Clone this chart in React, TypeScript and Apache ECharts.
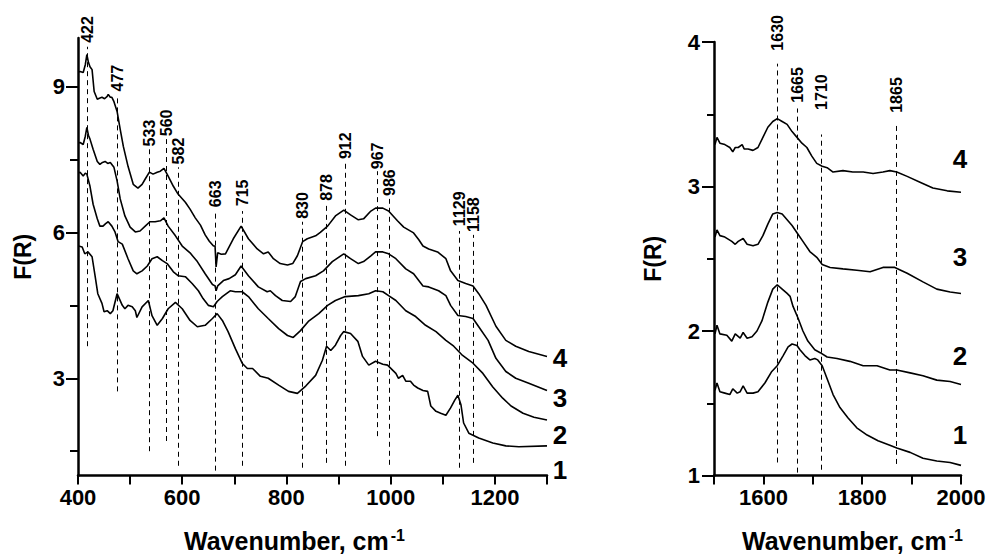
import React, { useEffect, useRef } from "react";
import * as echarts from "echarts";

const FONT = "'Liberation Sans', Arial, Helvetica, sans-serif";

// ---------- Left panel (400-1300 cm-1) ----------
const leftCurve1: number[][] = [
  [401, 5.72], [408, 5.7], [413, 5.56], [419, 5.6], [427, 5.5], [433, 5.09], [438, 4.74], [446, 4.54], [450, 4.37],
  [456, 4.39], [462, 4.33], [467, 4.39], [475, 4.74], [485, 4.5], [490, 4.43], [496, 4.5], [504, 4.47], [510, 4.39],
  [513, 4.25], [523, 4.47], [535, 4.6], [542, 4.29], [552, 4.09], [562, 4.23], [573, 4.43], [587, 4.56], [600, 4.43],
  [615, 4.19], [629, 4.06], [644, 4.09], [658, 4.23], [667, 4.33], [677, 4.19], [688, 3.96], [702, 3.61], [715, 3.31],
  [725, 3.2], [735, 3.2], [750, 3.04], [765, 3.0], [785, 2.86], [804, 2.73], [821, 2.69], [837, 2.84], [856, 3.06],
  [869, 3.37], [877, 3.66], [885, 3.57], [894, 3.68], [904, 3.88], [910, 3.96], [923, 3.92], [937, 3.76], [946, 3.45],
  [958, 3.27], [971, 3.35], [985, 3.29], [994, 3.27], [1010, 3.1], [1015, 3.0], [1023, 3.06], [1029, 2.94], [1038, 2.94],
  [1044, 2.86], [1052, 2.8], [1062, 2.75], [1071, 2.73], [1077, 2.43], [1087, 2.32], [1096, 2.28], [1106, 2.24],
  [1115, 2.39], [1123, 2.55], [1129, 2.65], [1135, 2.45], [1140, 2.08], [1150, 1.87], [1169, 1.77], [1196, 1.67],
  [1221, 1.61], [1246, 1.59], [1300, 1.61],
];
const leftCurve2: number[][] = [
  [401, 7.22], [404, 7.24], [410, 7.16], [414, 7.22], [417, 7.2], [423, 6.95], [429, 6.58], [437, 6.28], [442, 6.13],
  [448, 6.13], [453, 6.18], [458, 6.22], [465, 6.13], [471, 6.01], [477, 5.81], [485, 5.76], [496, 5.46], [506, 5.21],
  [513, 5.15], [523, 5.21], [533, 5.31], [542, 5.46], [552, 5.5], [562, 5.42], [571, 5.36], [583, 5.19], [592, 5.11],
  [606, 5.09], [619, 4.95], [631, 4.8], [640, 4.64], [650, 4.5], [660, 4.47], [667, 4.58], [677, 4.68], [692, 4.8],
  [702, 4.78], [715, 4.78], [727, 4.68], [746, 4.43], [765, 4.23], [785, 4.02], [802, 3.88], [813, 3.84], [827, 3.98],
  [842, 4.17], [862, 4.33], [879, 4.5], [894, 4.6], [913, 4.68], [938, 4.7], [958, 4.74], [971, 4.8], [985, 4.78],
  [996, 4.7], [1010, 4.6], [1029, 4.39], [1048, 4.27], [1067, 4.09], [1087, 3.96], [1106, 3.78], [1121, 3.66],
  [1138, 3.47], [1158, 3.31], [1177, 3.1], [1196, 2.82], [1215, 2.59], [1231, 2.43], [1254, 2.28], [1275, 2.2],
  [1300, 2.14],
];
const leftCurve3: number[][] = [
  [401, 7.84], [404, 7.85], [410, 7.81], [414, 7.98], [417, 8.16], [420, 8.0], [423, 7.92], [429, 7.71], [437, 7.46],
  [442, 7.4], [447, 7.44], [452, 7.46], [457, 7.42], [462, 7.44], [469, 7.34], [475, 7.06], [481, 6.69], [490, 6.34],
  [500, 6.11], [510, 6.01], [519, 6.03], [529, 6.13], [538, 6.22], [548, 6.22], [558, 6.24], [565, 6.3], [573, 6.13],
  [587, 5.93], [600, 5.72], [615, 5.58], [629, 5.4], [644, 5.15], [658, 4.93], [663, 4.9], [665, 4.8], [668, 4.9],
  [679, 5.01], [690, 5.05], [702, 5.13], [713, 5.31], [727, 5.11], [746, 4.88], [763, 4.78], [769, 4.8], [779, 4.7],
  [792, 4.6], [808, 4.58], [817, 4.68], [827, 4.99], [837, 5.05], [856, 5.11], [871, 5.21], [888, 5.4], [910, 5.56],
  [923, 5.46], [938, 5.36], [948, 5.4], [962, 5.52], [971, 5.6], [985, 5.6], [996, 5.56], [1010, 5.46], [1029, 5.25],
  [1044, 5.15], [1062, 4.9], [1073, 4.88], [1092, 4.8], [1106, 4.7], [1115, 4.5], [1129, 4.29], [1144, 4.27],
  [1158, 4.23], [1169, 4.06], [1187, 3.78], [1202, 3.41], [1221, 3.14], [1240, 3.0], [1265, 2.9], [1300, 2.75],
];
const leftCurve4: number[][] = [
  [401, 9.3], [404, 9.31], [410, 9.29], [414, 9.45], [417, 9.66], [420, 9.5], [423, 9.41], [427, 9.35], [431, 8.9],
  [437, 8.74], [441, 8.76], [446, 8.78], [451, 8.75], [456, 8.8], [458, 8.84], [462, 8.78], [465, 8.78], [469, 8.69],
  [475, 8.49], [481, 8.12], [487, 7.77], [496, 7.36], [506, 6.99], [515, 6.91], [523, 6.99], [529, 7.1], [537, 7.24],
  [544, 7.2], [552, 7.24], [558, 7.26], [565, 7.32], [573, 7.16], [583, 6.95], [592, 6.79], [606, 6.62], [615, 6.48],
  [625, 6.3], [635, 6.15], [644, 5.95], [652, 5.82], [660, 5.72], [663, 5.72], [665, 5.29], [668, 5.58], [675, 5.55],
  [683, 5.56], [698, 5.87], [713, 6.13], [727, 5.87], [744, 5.66], [756, 5.56], [765, 5.6], [775, 5.46], [788, 5.36],
  [802, 5.33], [812, 5.36], [821, 5.52], [831, 5.81], [840, 5.87], [856, 5.93], [865, 6.0], [879, 6.13], [894, 6.34],
  [910, 6.46], [923, 6.36], [938, 6.26], [948, 6.28], [962, 6.44], [971, 6.5], [985, 6.5], [996, 6.44], [1013, 6.24],
  [1025, 6.11], [1044, 5.99], [1054, 5.85], [1062, 5.72], [1073, 5.66], [1090, 5.6], [1106, 5.46], [1115, 5.21],
  [1129, 5.01], [1144, 4.95], [1158, 4.9], [1169, 4.74], [1183, 4.5], [1202, 4.07], [1221, 3.78], [1240, 3.66],
  [1265, 3.55], [1300, 3.45],
];

const leftMarkerLabels = ["422", "477", "533", "560", "582", "663", "715", "830", "878", "912", "967", "986", "1129", "1158"];
const leftMarkerX = [417, 475, 536, 569, 591, 663, 714, 830, 875, 913, 973, 996, 1131, 1158];
const leftMarkerBottom = [3.66, 2.73, 1.5, 1.71, 1.2, 1.1, 1.2, 1.16, 1.26, 1.2, 1.81, 1.22, 1.16, 1.26];
const leftMarkerTop = [9.82, 8.84, 7.71, 7.92, 7.34, 6.44, 6.44, 6.22, 6.58, 7.44, 7.26, 6.69, 6.03, 5.95];
const leftMarkerLabelY = [9.9, 8.9, 7.77, 7.98, 7.4, 6.52, 6.54, 6.28, 6.65, 7.51, 7.3, 6.75, 6.13, 6.01];

const leftCurveNames = ["1", "2", "3", "4"];
const leftCurveNameX = [1325, 1325, 1325, 1325];
const leftCurveNameY = [1.12, 1.83, 2.6, 3.41];

const leftXLabels = [400, 600, 800, 1000, 1200];
const leftYLabels = [3, 6, 9];
const leftYMinorTicks = [1.5, 4.5, 7.5];

// ---------- Right panel (1500-2000 cm-1) ----------
const rightCurve1: number[][] = [
  [1502, 1.59], [1506, 1.64], [1512, 1.58], [1522, 1.57], [1532, 1.56], [1538, 1.6], [1547, 1.57], [1553, 1.58],
  [1559, 1.62], [1567, 1.57], [1579, 1.57], [1589, 1.58], [1603, 1.64], [1617, 1.72], [1628, 1.76], [1640, 1.83],
  [1650, 1.89], [1658, 1.91], [1668, 1.9], [1674, 1.87], [1684, 1.83], [1694, 1.8], [1704, 1.81], [1710, 1.8],
  [1719, 1.76], [1729, 1.67], [1741, 1.56], [1755, 1.47], [1771, 1.4], [1789, 1.33], [1810, 1.28], [1832, 1.24],
  [1856, 1.21], [1870, 1.19], [1897, 1.16], [1923, 1.12], [1951, 1.1], [1978, 1.09], [2000, 1.07],
];
const rightCurve2: number[][] = [
  [1502, 1.98], [1506, 2.04], [1512, 1.98], [1526, 1.97], [1536, 1.93], [1543, 1.98], [1553, 1.95], [1559, 1.99],
  [1567, 1.95], [1577, 1.96], [1587, 2.0], [1597, 2.07], [1609, 2.2], [1619, 2.29], [1628, 2.32], [1638, 2.29],
  [1648, 2.26], [1654, 2.24], [1660, 2.17], [1670, 2.09], [1680, 2.0], [1690, 1.93], [1704, 1.87], [1715, 1.85],
  [1729, 1.82], [1749, 1.81], [1775, 1.79], [1802, 1.76], [1830, 1.76], [1856, 1.73], [1870, 1.73], [1897, 1.71],
  [1923, 1.69], [1951, 1.66], [1978, 1.65], [2000, 1.63],
];
const rightCurve3: number[][] = [
  [1502, 2.65], [1506, 2.7], [1512, 2.66], [1522, 2.65], [1536, 2.62], [1543, 2.6], [1549, 2.62], [1559, 2.64],
  [1567, 2.6], [1579, 2.59], [1589, 2.6], [1599, 2.66], [1609, 2.74], [1619, 2.81], [1628, 2.82], [1638, 2.81],
  [1648, 2.77], [1658, 2.73], [1668, 2.68], [1680, 2.62], [1694, 2.55], [1708, 2.51], [1719, 2.46], [1735, 2.44],
  [1761, 2.43], [1789, 2.42], [1816, 2.41], [1842, 2.44], [1866, 2.44], [1891, 2.4], [1923, 2.34], [1951, 2.29],
  [1978, 2.27], [2000, 2.26],
];
const rightCurve4: number[][] = [
  [1502, 3.29], [1506, 3.34], [1512, 3.3], [1522, 3.29], [1532, 3.27], [1538, 3.24], [1543, 3.27], [1549, 3.27],
  [1557, 3.29], [1561, 3.26], [1569, 3.26], [1579, 3.25], [1589, 3.27], [1599, 3.34], [1609, 3.41], [1619, 3.45],
  [1628, 3.47], [1638, 3.45], [1648, 3.43], [1658, 3.38], [1668, 3.34], [1678, 3.3], [1688, 3.27], [1698, 3.21],
  [1708, 3.16], [1719, 3.14], [1729, 3.13], [1741, 3.1], [1761, 3.11], [1781, 3.1], [1802, 3.1], [1822, 3.09],
  [1842, 3.1], [1856, 3.11], [1870, 3.1], [1891, 3.07], [1917, 3.03], [1943, 2.99], [1972, 2.97], [2000, 2.96],
];

const rightMarkerLabels = ["1630", "1665", "1710", "1865"];
const rightMarkerX = [1627, 1668, 1717, 1868];
const rightMarkerBottom = [1.09, 1.02, 1.04, 1.08];
const rightMarkerTop = [3.85, 3.54, 3.36, 3.43];
const rightMarkerLabelY = [3.94, 3.58, 3.53, 3.51];

const rightCurveNames = ["1", "2", "3", "4"];
const rightCurveNameX = [1998, 1998, 1998, 1998];
const rightCurveNameY = [1.28, 1.83, 2.51, 3.19];

const rightXLabels = [1600, 1800, 2000];

// ---------- helpers ----------
const axisLineStyle = { color: "#000", width: 2.5 };
const tickLineStyle = { color: "#000", width: 2 };
const labelStyle = { color: "#000", fontFamily: FONT, fontWeight: "bold" as const, fontSize: 22 };
const xName = "{a|Wavenumber, cm}{b|-1}";
const xNameRich = {
  a: { fontSize: 25, fontWeight: "bold", fontFamily: FONT, color: "#000" },
  b: { fontSize: 16, fontWeight: "bold", fontFamily: FONT, color: "#000", verticalAlign: "top", padding: [0, 0, 10, 2] },
};
const yNameStyle = { fontSize: 23, fontWeight: "bold", fontFamily: FONT, color: "#000" };

const pick = (list: number[]) => (v: number) => (list.indexOf(Math.round(v)) >= 0 ? String(Math.round(v)) : "");

function curveSeries(data: number[][], xi: number, yi: number) {
  return {
    type: "line",
    xAxisIndex: xi,
    yAxisIndex: yi,
    data,
    showSymbol: false,
    symbol: "none",
    smooth: false,
    silent: true,
    lineStyle: { color: "#000", width: 1.6 },
    z: 3,
  };
}

function markerSeries(xi: number, yi: number, labels: string[], xs: number[], yb: number[], yt: number[], yl: number[]) {
  return {
    type: "custom",
    xAxisIndex: xi,
    yAxisIndex: yi,
    coordinateSystem: "cartesian2d",
    clip: false,
    silent: true,
    z: 2,
    data: xs.map((x, i) => [x, yb[i], yt[i], yl[i]]),
    encode: { x: 0, y: [1, 2, 3] },
    renderItem: (params: any, api: any) => {
      const x = api.value(0);
      const p1 = api.coord([x, api.value(1)]);
      const p2 = api.coord([x, api.value(2)]);
      const p3 = api.coord([x, api.value(3)]);
      const px = Math.round(p1[0]) + 0.5;
      return {
        type: "group",
        children: [
          {
            type: "line",
            shape: { x1: px, y1: p1[1], x2: px, y2: p2[1] },
            style: { stroke: "#000", lineWidth: 1, lineDash: [5, 4] },
          },
          {
            type: "text",
            x: px,
            y: p3[1],
            rotation: Math.PI / 2,
            style: {
              text: labels[params.dataIndex],
              fill: "#000",
              font: `bold 16px ${FONT}`,
              textAlign: "left",
              textVerticalAlign: "middle",
              align: "left",
              verticalAlign: "middle",
            },
          },
        ],
      };
    },
  };
}

function nameSeries(xi: number, yi: number, names: string[], xs: number[], ys: number[]) {
  return {
    type: "custom",
    xAxisIndex: xi,
    yAxisIndex: yi,
    coordinateSystem: "cartesian2d",
    clip: false,
    silent: true,
    z: 4,
    data: xs.map((x, i) => [x, ys[i]]),
    encode: { x: 0, y: 1 },
    renderItem: (params: any, api: any) => {
      const p = api.coord([api.value(0), api.value(1)]);
      return {
        type: "text",
        x: p[0],
        y: p[1],
        style: {
          text: names[params.dataIndex],
          fill: "#000",
          font: `bold 26px ${FONT}`,
          textAlign: "center",
          textVerticalAlign: "middle",
          align: "center",
          verticalAlign: "middle",
        },
      };
    },
  };
}

export default function App() {
  const ref = useRef<HTMLDivElement>(null);

  useEffect(() => {
    if (!ref.current) return;
    const chart = echarts.init(ref.current, undefined, { renderer: "svg" });
    chart.setOption({
      animation: false,
      backgroundColor: "#fff",
      grid: [
        { left: 78, top: 38, width: 469, height: 439 },
        { left: 714, top: 42, width: 247, height: 436 },
      ],
      xAxis: [
        {
          type: "value",
          gridIndex: 0,
          min: 400,
          max: 1300,
          interval: 100,
          axisLine: { show: true, onZero: false, lineStyle: axisLineStyle },
          axisTick: { show: true, length: 9, lineStyle: tickLineStyle },
          axisLabel: { ...labelStyle, margin: 11, formatter: pick(leftXLabels) },
          splitLine: { show: false },
          name: xName,
          nameLocation: "middle",
          nameGap: 52,
          nameTextStyle: { rich: xNameRich, padding: [0, 36, 0, 0] },
        },
        {
          type: "value",
          gridIndex: 1,
          min: 1500,
          max: 2000,
          interval: 100,
          axisLine: { show: true, onZero: false, lineStyle: axisLineStyle },
          axisTick: { show: true, length: 9, lineStyle: tickLineStyle },
          axisLabel: { ...labelStyle, margin: 11, formatter: pick(rightXLabels) },
          splitLine: { show: false },
          name: xName,
          nameLocation: "middle",
          nameGap: 52,
          nameTextStyle: { rich: xNameRich, padding: [0, 0, 0, 30] },
        },
      ],
      yAxis: [
        {
          type: "value",
          gridIndex: 0,
          min: 1,
          max: 10,
          axisLine: { show: true, onZero: false, lineStyle: axisLineStyle },
          axisTick: { show: true, length: 12, lineStyle: tickLineStyle, customValues: leftYLabels },
          axisLabel: { ...labelStyle, margin: 13, customValues: leftYLabels },
          splitLine: { show: false },
          name: "F(R)",
          nameLocation: "middle",
          nameGap: 44,
          nameTextStyle: yNameStyle,
        },
        {
          type: "value",
          gridIndex: 0,
          position: "left",
          min: 1,
          max: 10,
          axisLine: { show: true, onZero: false, lineStyle: { color: "rgba(0,0,0,0)", width: 1 } },
          axisTick: { show: true, length: 8, lineStyle: tickLineStyle, customValues: leftYMinorTicks },
          axisLabel: { show: false },
          splitLine: { show: false },
        },
        {
          type: "value",
          gridIndex: 1,
          min: 1,
          max: 4,
          interval: 1,
          axisLine: { show: true, onZero: false, lineStyle: axisLineStyle },
          axisTick: { show: true, length: 12, lineStyle: tickLineStyle },
          minorTick: { show: true, splitNumber: 2, length: 7, lineStyle: tickLineStyle },
          axisLabel: { ...labelStyle, margin: 14 },
          splitLine: { show: false },
          minorSplitLine: { show: false },
          name: "F(R)",
          nameLocation: "middle",
          nameGap: 50,
          nameTextStyle: yNameStyle,
        },
      ],
      series: [
        markerSeries(0, 0, leftMarkerLabels, leftMarkerX, leftMarkerBottom, leftMarkerTop, leftMarkerLabelY),
        markerSeries(1, 2, rightMarkerLabels, rightMarkerX, rightMarkerBottom, rightMarkerTop, rightMarkerLabelY),
        curveSeries(leftCurve1, 0, 0),
        curveSeries(leftCurve2, 0, 0),
        curveSeries(leftCurve3, 0, 0),
        curveSeries(leftCurve4, 0, 0),
        curveSeries(rightCurve1, 1, 2),
        curveSeries(rightCurve2, 1, 2),
        curveSeries(rightCurve3, 1, 2),
        curveSeries(rightCurve4, 1, 2),
        nameSeries(0, 0, leftCurveNames, leftCurveNameX, leftCurveNameY),
        nameSeries(1, 2, rightCurveNames, rightCurveNameX, rightCurveNameY),
      ],
    });
    return () => chart.dispose();
  }, []);

  return (
    <div
      ref={ref}
      style={{ position: "fixed", left: 0, top: 0, width: 989, height: 558, background: "#fff" }}
    />
  );
}
